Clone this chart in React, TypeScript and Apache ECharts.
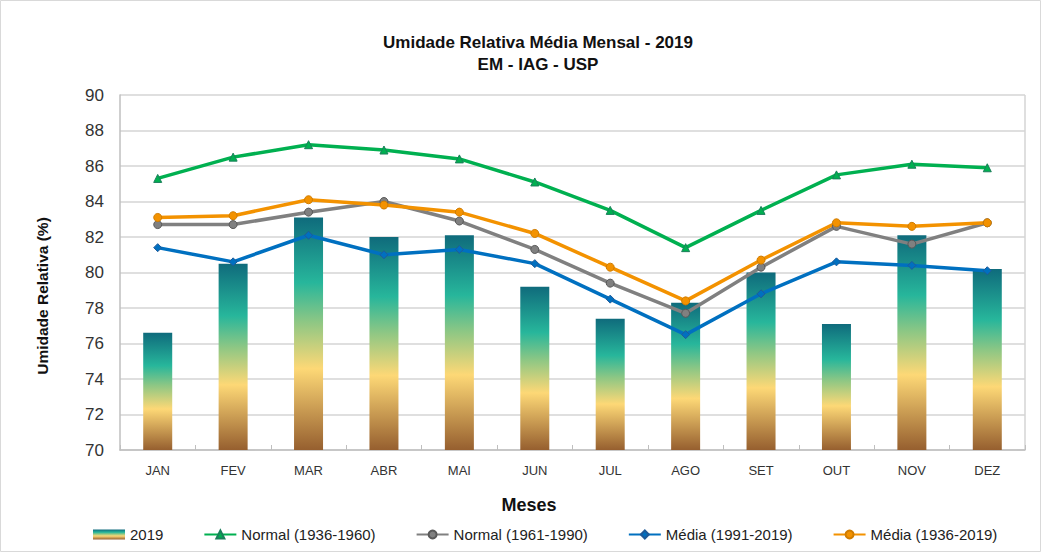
import React, { useEffect, useRef } from "react";
import * as echarts from "echarts";

const months = ["JAN", "FEV", "MAR", "ABR", "MAI", "JUN", "JUL", "AGO", "SET", "OUT", "NOV", "DEZ"];
const ur2019 = [76.6, 80.5, 83.1, 82.0, 82.1, 79.2, 77.4, 78.3, 80.0, 77.1, 82.1, 80.2];
const normal1936_1960 = [85.3, 86.5, 87.2, 86.9, 86.4, 85.1, 83.5, 81.4, 83.5, 85.5, 86.1, 85.9];
const normal1961_1990 = [82.7, 82.7, 83.4, 84.0, 82.9, 81.3, 79.4, 77.7, 80.3, 82.6, 81.6, 82.8];
const media1991_2019 = [81.4, 80.6, 82.1, 81.0, 81.3, 80.5, 78.5, 76.5, 78.8, 80.6, 80.4, 80.1];
const media1936_2019 = [83.1, 83.2, 84.1, 83.8, 83.4, 82.2, 80.3, 78.4, 80.7, 82.8, 82.6, 82.8];
const yTicks = { min: 70, max: 90, interval: 2 };

const FONT = "'Liberation Sans', Arial, sans-serif";

export default function App() {
  const ref = useRef<HTMLDivElement>(null);
  useEffect(() => {
    if (!ref.current) return;
    const chart = echarts.init(ref.current, undefined, { renderer: "svg" });
    const barGrad = new echarts.graphic.LinearGradient(0, 0, 0, 1, [
      { offset: 0, color: "#0f6b7c" },
      { offset: 0.28, color: "#27b69b" },
      { offset: 0.45, color: "#8ec784" },
      { offset: 0.65, color: "#fdd876" },
      { offset: 1, color: "#965f2f" },
    ]);
    const lineSeries = (name: string, data: number[], color: string, symbol: string, border: string) => ({
      name,
      type: "line",
      data,
      symbol,
      symbolSize: 8,
      lineStyle: { color, width: 3.5 },
      itemStyle: { color, borderColor: border, borderWidth: 1 },
      z: 3,
    });
    chart.setOption({
      animation: false,
      textStyle: { fontFamily: FONT },
      title: {
        text: "Umidade Relativa Média Mensal - 2019\nEM - IAG - USP",
        left: 533,
        textAlign: "center",
        top: 26,
        textStyle: { fontSize: 17, fontWeight: "bold", color: "#111", lineHeight: 22, fontFamily: FONT },
      },
      legend: {
        bottom: 5,
        left: 88,
        itemGap: 40,
        itemWidth: 32,
        itemHeight: 10,
        textStyle: { fontSize: 15, color: "#222", fontFamily: FONT },
        data: [
          { name: "2019", icon: "rect" },
          "Normal (1936-1960)",
          "Normal (1961-1990)",
          "Média (1991-2019)",
          "Média (1936-2019)",
        ],
      },
      grid: { left: 120, right: 16, top: 95, bottom: 102 },
      xAxis: {
        type: "category",
        data: months,
        axisLine: { lineStyle: { color: "#bfbfbf", width: 1.5 } },
        axisTick: { show: true, inside: true, length: 5, lineStyle: { color: "#bfbfbf" } },
        axisLabel: { fontSize: 13, color: "#333", margin: 14 },
      },
      yAxis: {
        type: "value",
        min: yTicks.min,
        max: yTicks.max,
        interval: yTicks.interval,
        axisLine: { show: true, lineStyle: { color: "#bfbfbf", width: 1.5 } },
        axisTick: { show: false },
        axisLabel: { fontSize: 17, color: "#333", margin: 16 },
        splitLine: { lineStyle: { color: "#d4d4d4", width: 1.5 } },
      },
      graphic: [
        {
          type: "rect",
          shape: { x: 0.5, y: 0.5, width: 1040, height: 551 },
          style: { fill: "none", stroke: "#d9d9d9", lineWidth: 1 },
          silent: true,
        },
        {
          type: "line",
          shape: { x1: 1025, y1: 95, x2: 1025, y2: 450 },
          style: { stroke: "#d4d4d4", lineWidth: 1.5 },
          silent: true,
        },
        {
          type: "text",
          x: 42,
          y: 296,
          rotation: Math.PI / 2,
          style: {
            text: "Umidade Relativa (%)",
            fontSize: 15.5,
            fontWeight: "bold",
            fill: "#111",
            fontFamily: FONT,
            align: "center",
            verticalAlign: "middle",
          },
        },
        {
          type: "text",
          x: 529,
          y: 505,
          style: {
            text: "Meses",
            fontSize: 18,
            fontWeight: "bold",
            fill: "#111",
            fontFamily: FONT,
            align: "center",
            verticalAlign: "middle",
          },
        },
      ],
      series: [
        {
          name: "2019",
          type: "bar",
          data: ur2019,
          barWidth: 29,
          itemStyle: { color: barGrad },
          z: 2,
        },
        lineSeries("Normal (1936-1960)", normal1936_1960, "#00b050", "triangle", "#1a7f5a"),
        lineSeries("Normal (1961-1990)", normal1961_1990, "#808080", "circle", "#595959"),
        lineSeries("Média (1991-2019)", media1991_2019, "#0070c0", "diamond", "#1f5a99"),
        lineSeries("Média (1936-2019)", media1936_2019, "#f39200", "circle", "#d07c00"),
      ],
    });
    return () => chart.dispose();
  }, []);
  return (
    <div
      ref={ref}
      style={{ position: "fixed", left: 0, top: 0, width: 1041, height: 552, background: "#fff" }}
    />
  );
}
